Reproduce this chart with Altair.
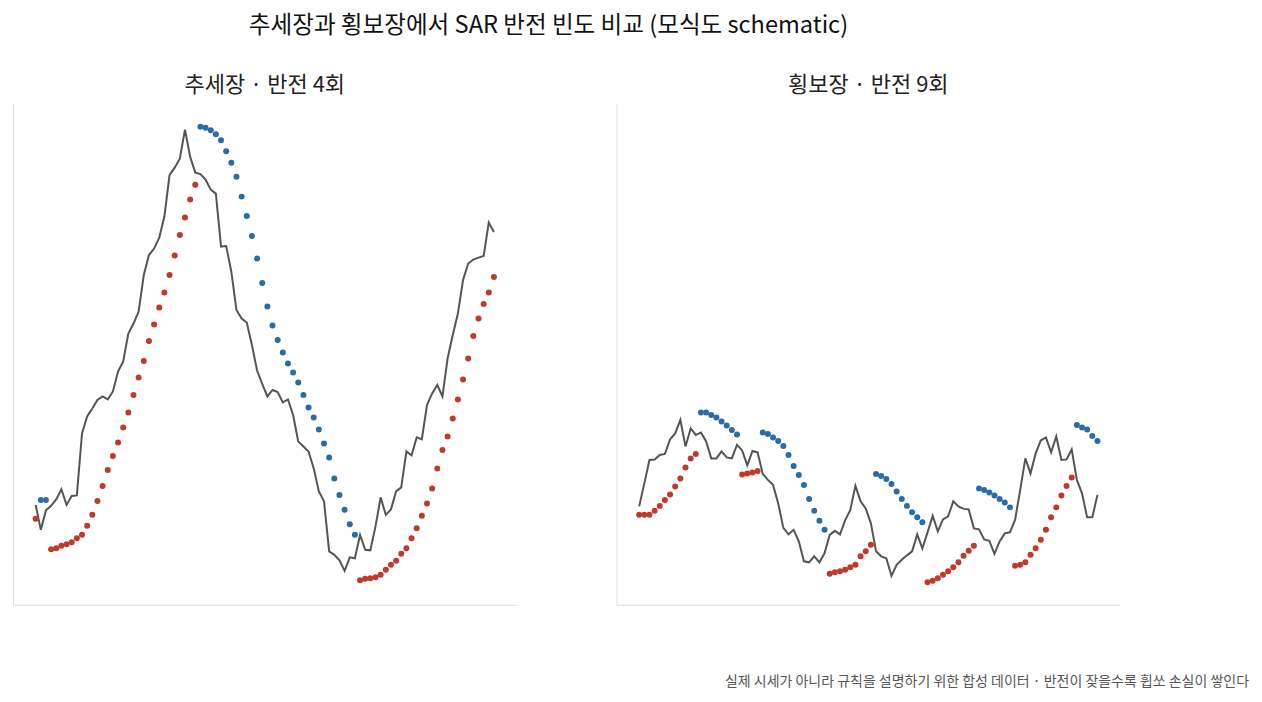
import altair as alt
import pandas as pd

FONT = "Noto Sans CJK KR"

# 추세장: 가격과 SAR (모식도용 값)
trend_price = [
    20.0, 15.0, 18.9, 19.8, 21.1, 23.1, 20.0, 21.8, 21.9, 34.3,
    37.7, 39.3, 41.0, 41.7, 41.1, 42.7, 46.7, 48.7, 54.3, 56.3,
    58.7, 66.0, 70.0, 71.3, 73.5, 77.7, 86.0, 87.5, 89.3, 95.1,
    89.7, 86.5, 86.2, 85.1, 83.1, 82.3, 71.7, 71.8, 66.7, 59.0,
    57.3, 56.5, 52.0, 46.9, 44.2, 41.7, 43.0, 42.6, 40.5, 41.1,
    38.0, 32.7, 31.7, 30.7, 27.3, 22.7, 20.7, 10.7, 10.0, 8.9,
    6.8, 9.5, 9.3, 14.0, 11.0, 10.9, 15.7, 21.5, 18.0, 19.1,
    22.7, 23.5, 30.7, 29.9, 33.5, 33.1, 40.0, 42.3, 44.0, 41.7,
    49.3, 54.0, 58.3, 65.0, 68.3, 69.1, 69.5, 69.8, 76.5, 74.6,
]
trend_sar = [
    17.2, 21.0, 21.0, 11.1, 11.3, 11.8, 12.1, 12.5, 13.3, 14.0,
    15.8, 18.0, 20.8, 23.8, 27.0, 29.8, 32.5, 35.5, 38.5, 42.0,
    45.5, 48.8, 52.8, 56.1, 59.5, 62.5, 66.0, 69.9, 74.0, 77.5,
    81.1, 84.1, 95.7, 95.5, 95.0, 94.2, 93.0, 90.8, 88.5, 85.7,
    81.7, 77.8, 73.8, 69.3, 64.4, 59.7, 55.9, 53.0, 50.5, 48.3,
    46.5, 44.5, 42.0, 39.5, 37.5, 35.1, 32.3, 29.5, 25.3, 22.0,
    19.0, 16.1, 14.0, 4.9, 5.2, 5.3, 5.5, 6.0, 7.0, 8.0,
    8.8, 10.2, 11.3, 13.3, 15.3, 17.8, 20.3, 23.3, 27.3, 31.0,
    33.7, 37.3, 41.1, 45.1, 49.3, 53.8, 57.3, 60.2, 62.5, 65.6,
]

# 횡보장: 가격과 SAR
range_price = [
    19.7, 24.3, 29.0, 29.1, 30.0, 30.2, 33.1, 34.3, 37.0, 31.7,
    35.3, 34.0, 34.5, 32.7, 29.3, 29.3, 30.7, 29.5, 29.3, 32.0,
    30.9, 27.9, 30.8, 30.5, 26.2, 25.0, 24.0, 20.3, 15.4, 14.1,
    15.0, 12.7, 8.7, 8.5, 9.7, 8.5, 10.3, 14.0, 14.8, 14.1,
    16.9, 19.0, 23.8, 20.7, 19.3, 16.3, 10.7, 9.7, 9.3, 5.8,
    8.0, 9.0, 9.9, 10.7, 14.1, 11.3, 14.5, 17.8, 14.7, 17.1,
    17.7, 20.7, 19.7, 19.2, 19.1, 15.3, 15.1, 13.1, 12.8, 10.2,
    12.7, 14.3, 14.5, 17.0, 23.0, 29.3, 26.3, 30.3, 32.9, 33.5,
    30.5, 33.7, 29.0, 29.1, 31.1, 25.0, 22.3, 17.5, 17.5, 22.0,
]
range_sar = [
    18.0, 18.0, 18.0, 18.8, 19.8, 21.0, 22.1, 23.7, 25.3, 27.5,
    29.3, 30.2, 38.5, 38.5, 38.0, 37.5, 36.7, 35.9, 35.0, 34.1,
    26.1, 26.3, 26.5, 26.8, 34.5, 34.2, 33.5, 32.8, 31.8, 30.0,
    27.8, 26.0, 24.0, 21.2, 18.8, 16.8, 15.0, 6.2, 6.5, 6.7,
    7.0, 7.5, 8.0, 9.7, 10.7, 12.0, 26.2, 25.8, 25.2, 24.2,
    22.7, 21.2, 19.8, 18.5, 17.5, 16.5, 4.5, 4.8, 5.3, 6.0,
    6.7, 7.5, 8.5, 9.8, 10.8, 11.8, 23.3, 23.0, 22.5, 21.9,
    21.2, 20.5, 19.5, 7.8, 8.0, 8.5, 10.0, 11.3, 13.0, 15.0,
    17.5, 19.5, 21.9, 23.8, 25.5, 36.0, 35.5, 35.1, 33.8, 32.8,
]

titles = ["추세장 · 반전 4회", "횡보장 · 반전 9회"]
footer = "실제 시세가 아니라 규칙을 설명하기 위한 합성 데이터 · 반전이 잦을수록 휩쏘 손실이 쌓인다"


def panel(price, sar, title, note=None):
    df = pd.DataFrame({"t": range(len(price)), "price": price, "sar": sar})
    x = alt.X("t:Q", scale=alt.Scale(domain=[-4.4, 93.4], nice=False, zero=False))
    base = alt.Chart(df).encode(x=x)

    line = base.mark_line(color="#555555", strokeWidth=2).encode(
        y=alt.Y("price:Q", scale=alt.Scale(domain=[0, 100.4], nice=False))
    )
    dots = base.transform_calculate(
        side="datum.sar < datum.price ? 'up' : 'down'"
    ).mark_circle(size=36, opacity=1).encode(
        y="sar:Q",
        color=alt.Color("side:N", scale=alt.Scale(domain=["up", "down"], range=["#c0392b", "#2b6ca8"]), legend=None),
    )
    layers = [line, dots]
    if note:
        txt = alt.Chart(pd.DataFrame({"note": [note]})).mark_text(
            align="right", baseline="alphabetic", fontSize=14, font=FONT, color="#555555"
        ).encode(text="note:N", x=alt.value(633), y=alt.value(583))
        layers.append(txt)

    return alt.layer(*layers).properties(
        width=504,
        height=502,
        title=alt.TitleParams(title, fontSize=22, font=FONT, fontWeight="normal", color="#222222", offset=6),
    )


left = panel(trend_price, trend_sar, titles[0])
right = panel(range_price, range_sar, titles[1], note=footer)

chart = alt.hconcat(left, right, spacing=100).properties(
    title=alt.TitleParams(
        "추세장과 횡보장에서 SAR 반전 빈도 비교 (모식도 schematic)",
        fontSize=23.6, font=FONT, fontWeight="normal", color="#111111",
        anchor="start", dx=236, offset=37,
    )
).configure_view(stroke=None).configure_axis(
    labels=False, ticks=False, grid=False, title=None, domainColor="#dddddd"
)

chart.save("out.html", embed_options={"renderer": "svg", "actions": False})
